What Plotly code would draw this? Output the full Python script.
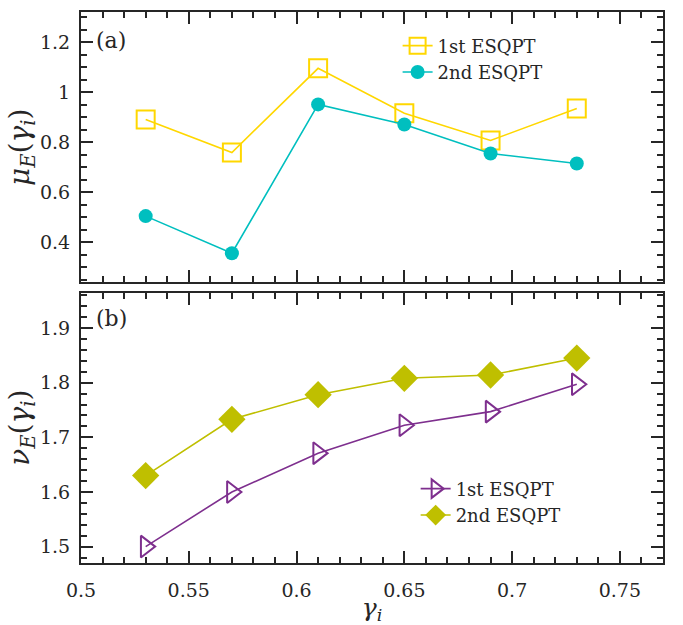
import plotly.graph_objects as go
from plotly.subplots import make_subplots

gamma = [0.53, 0.57, 0.61, 0.65, 0.69, 0.73]
mu_1st = [0.891, 0.759, 1.095, 0.916, 0.807, 0.935]
mu_2nd = [0.505, 0.357, 0.951, 0.871, 0.755, 0.715]
nu_1st = [1.500, 1.600, 1.671, 1.722, 1.747, 1.797]
nu_2nd = [1.630, 1.733, 1.778, 1.808, 1.814, 1.845]

FONT = "DejaVu Serif"
AX = "#262626"

fig = make_subplots(rows=2, cols=1, shared_xaxes=True, vertical_spacing=0.0182)

fig.add_trace(go.Scatter(x=gamma, y=mu_1st, mode="lines+markers", name="1st ESQPT",
                         line=dict(color="#FFD700", width=1.6),
                         marker=dict(symbol="square-open", size=18, color="#FFD700", line=dict(width=2)),
                         legend="legend"), row=1, col=1)
fig.add_trace(go.Scatter(x=gamma, y=mu_2nd, mode="lines+markers", name="2nd ESQPT",
                         line=dict(color="#00BFBF", width=1.6),
                         marker=dict(symbol="circle", size=14, color="#00BFBF"),
                         legend="legend"), row=1, col=1)
fig.add_trace(go.Scatter(x=gamma, y=nu_1st, mode="lines+markers", name="1st ESQPT",
                         line=dict(color="#7E2F8E", width=1.6),
                         marker=dict(symbol="triangle-right-open", size=19, color="#7E2F8E", line=dict(width=2)),
                         legend="legend2"), row=2, col=1)
fig.add_trace(go.Scatter(x=gamma, y=nu_2nd, mode="lines+markers", name="2nd ESQPT",
                         line=dict(color="#BFBF00", width=1.6),
                         marker=dict(symbol="diamond", size=21, color="#BFBF00"),
                         legend="legend2"), row=2, col=1)

common = dict(showline=True, linecolor=AX, linewidth=2, mirror="allticks",
              ticks="inside", ticklen=12, tickwidth=2, tickcolor=AX,
              showgrid=False, zeroline=False,
              tickfont=dict(family=FONT, size=19, color=AX))

fig.update_xaxes(**common, range=[0.5, 0.77], dtick=0.05, tick0=0.5,
                 minor=dict(ticks="inside", ticklen=6, tickwidth=2, tickcolor=AX, dtick=0.01, tick0=0.5))
fig.update_xaxes(row=2, col=1, ticklabelstandoff=9,
                 title=dict(text="<i>γ<sub>i</sub></i>", font=dict(family=FONT, size=25, color=AX), standoff=4))
fig.update_yaxes(**common)
fig.update_yaxes(row=1, col=1, range=[0.24, 1.32], dtick=0.2, tick0=0.4, ticklabelstandoff=5,
                 minor=dict(ticks="inside", ticklen=6, tickwidth=2, tickcolor=AX, dtick=0.05, tick0=0.4),
                 title=dict(text="<i>μ<sub>E</sub></i>(<i>γ<sub>i</sub></i>)", font=dict(family=FONT, size=28, color=AX), standoff=0))
fig.update_yaxes(row=2, col=1, range=[1.47, 1.965], dtick=0.1, tick0=1.5, ticklabelstandoff=5,
                 minor=dict(ticks="inside", ticklen=6, tickwidth=2, tickcolor=AX, dtick=0.02, tick0=1.5),
                 title=dict(text="<i>ν<sub>E</sub></i>(<i>γ<sub>i</sub></i>)", font=dict(family=FONT, size=28, color=AX), standoff=0))

fig.add_annotation(text="(a)", xref="x domain", yref="y domain", x=0.022, y=0.895,
                   xanchor="left", yanchor="middle", showarrow=False,
                   font=dict(family=FONT, size=22, color=AX))
fig.add_annotation(text="(b)", xref="x2 domain", yref="y2 domain", x=0.022, y=0.905,
                   xanchor="left", yanchor="middle", showarrow=False,
                   font=dict(family=FONT, size=22, color=AX))

fig.update_layout(
    width=683, height=625,
    margin=dict(l=81, r=20, t=12, b=62, autoexpand=False),
    paper_bgcolor="white", plot_bgcolor="white",
    font=dict(family=FONT),
    legend=dict(x=0.544, y=0.972, xanchor="left", yanchor="top", bgcolor="rgba(0,0,0,0)",
                font=dict(family=FONT, size=18, color=AX), itemwidth=30, tracegroupgap=0),
    legend2=dict(x=0.575, y=0.168, xanchor="left", yanchor="top", bgcolor="rgba(0,0,0,0)",
                 font=dict(family=FONT, size=18, color=AX), itemwidth=30, tracegroupgap=0),
)

fig.write_html("out.html")
